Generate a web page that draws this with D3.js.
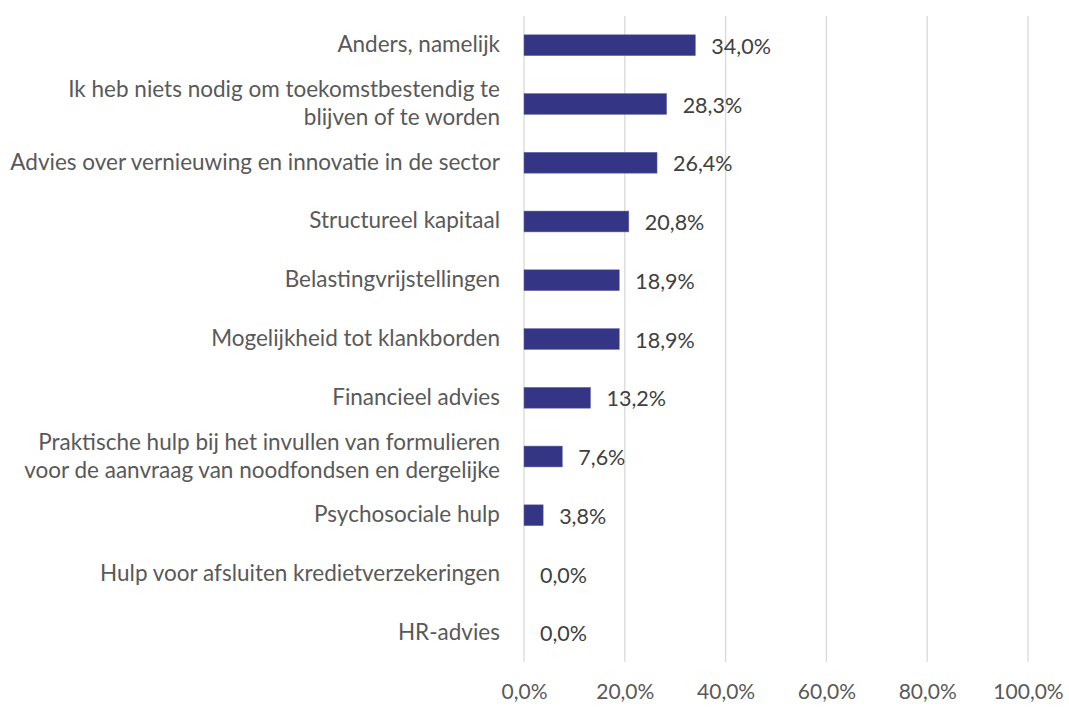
<!DOCTYPE html>
<html><head><meta charset="utf-8">
<script src="https://cdn.jsdelivr.net/npm/d3@7"></script>
<style>body{margin:0;background:#fff}svg{display:block}text{font-family:Lato,"Open Sans",sans-serif}</style>
</head><body><svg id="c" width="1069" height="708"></svg>
<script>
const categories = [
  ["Anders, namelijk"],
  ["Ik heb niets nodig om toekomstbestendig te", "blijven of te worden"],
  ["Advies over vernieuwing en innovatie in de sector"],
  ["Structureel kapitaal"],
  ["Belastingvrijstellingen"],
  ["Mogelijkheid tot klankborden"],
  ["Financieel advies"],
  ["Praktische hulp bij het invullen van formulieren", "voor de aanvraag van noodfondsen en dergelijke"],
  ["Psychosociale hulp"],
  ["Hulp voor afsluiten kredietverzekeringen"],
  ["HR-advies"]
];
const values = [34.0, 28.3, 26.4, 20.8, 18.9, 18.9, 13.2, 7.6, 3.8, 0.0, 0.0];
const xTicks = [0, 20, 40, 60, 80, 100];

const svg = d3.select("#c");
const m = {left: 524, right: 41, top: 16, bottom: 46};
const W = 1069, H = 708;
const fmt = v => v.toFixed(1).replace(".", ",") + "%";

const x = d3.scaleLinear().domain([0, 100]).range([m.left, W - m.right]);
const y = d3.scaleBand().domain(d3.range(categories.length)).range([m.top, H - m.bottom]).paddingInner(0.645).paddingOuter(0.32);

// gridlines
svg.append("g").selectAll("line").data(xTicks).join("line")
  .attr("x1", d => x(d)).attr("x2", d => x(d))
  .attr("y1", m.top).attr("y2", H - m.bottom)
  .attr("stroke", "#d9d9d9").attr("stroke-width", 1.3);

// axis labels
const ax = svg.append("g").attr("transform", `translate(0,${H - m.bottom})`)
  .call(d3.axisBottom(x).tickValues(xTicks).tickFormat(fmt).tickSize(0).tickPadding(22));
ax.select(".domain").remove();
ax.selectAll("text").attr("fill", "#595959").style("font-size", "21px").style("font-family", "Lato");

// bars
svg.append("g").selectAll("rect").data(values).join("rect")
  .attr("x", x(0)).attr("y", (d, i) => y(i))
  .attr("width", d => x(d) - x(0)).attr("height", y.bandwidth())
  .attr("fill", "#353586").attr("stroke", "#6a6aaa").attr("stroke-width", 0.5)
  .attr("display", d => d > 0 ? null : "none");

// data labels
svg.append("g").selectAll("text").data(values).join("text")
  .attr("x", d => x(d) + 16).attr("y", (d, i) => y(i) + y.bandwidth() / 2)
  .attr("dy", "0.4em").attr("fill", "#404040").style("font-size", "21.5px")
  .text(fmt);

// category labels
const cl = svg.append("g").selectAll("text").data(categories).join("text")
  .attr("x", 500).attr("text-anchor", "end").attr("fill", "#595959").style("font-size", "22.5px")
  .attr("y", (d, i) => y(i) + y.bandwidth() / 2);
cl.each(function(lines) {
  const t = d3.select(this);
  const n = lines.length;
  lines.forEach((s, k) => {
    t.append("tspan").attr("x", 500)
      .attr("dy", k === 0 ? (7 - (n - 1) * 14) + "px" : "28px")
      .text(s);
  });
});
</script></body></html>
